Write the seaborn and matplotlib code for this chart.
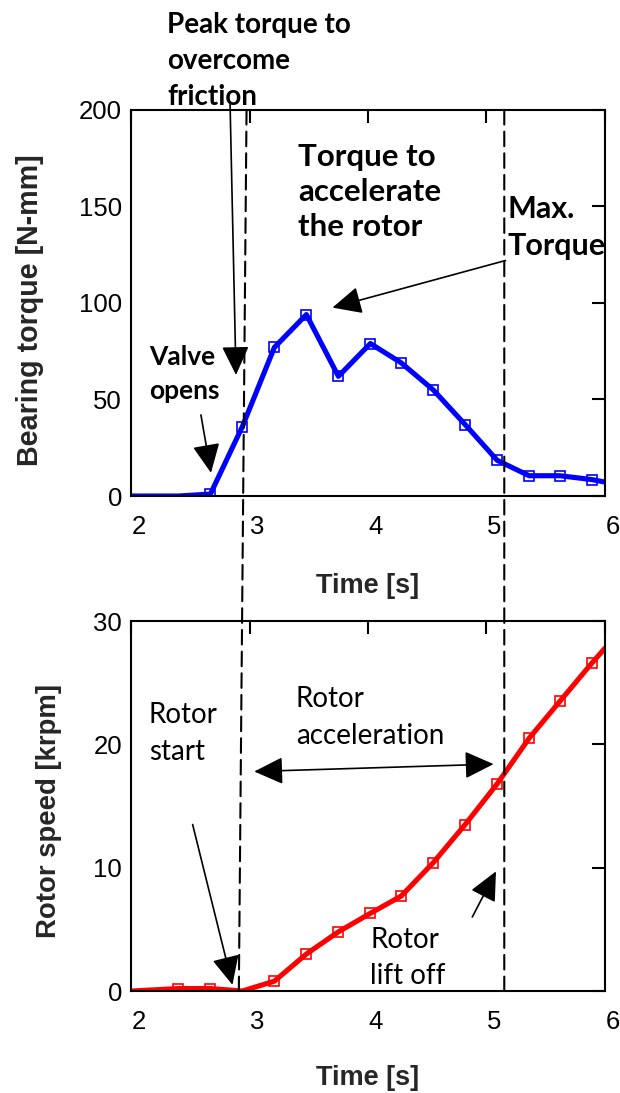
import matplotlib
matplotlib.use("Agg")
import matplotlib.pyplot as plt
from matplotlib.patches import ConnectionPatch
from matplotlib.transforms import ScaledTranslation
import pandas as pd
import seaborn as sns

# Sampled start-up record of the air-bearing rotor
time_s = [2.0, 2.40, 2.67, 2.94, 3.21, 3.48, 3.75, 4.02, 4.28, 4.55, 4.82,
          5.09, 5.36, 5.62, 5.89, 6.0]
bearing_torque = [0, 0, 1, 36, 77, 94, 62, 79, 69, 55, 37,
                  18.5, 10.5, 10.5, 8.5, 7.2]
rotor_speed = [0, 0.2, 0.2, 0, 0.8, 3.0, 4.8, 6.3, 7.7, 10.4, 13.5,
               16.8, 20.5, 23.5, 26.6, 27.8]

# samples that carry a square marker
torque_marked = [2, 3, 4, 5, 6, 7, 8, 9, 10, 11, 12, 13, 14]
speed_marked = [1, 2, 4, 5, 6, 7, 8, 9, 10, 11, 12, 13, 14]

time_ticks = [2, 3, 4, 5, 6]
torque_ticks = [0, 50, 100, 150, 200]
speed_ticks = [0, 10, 20, 30]

# event times (peak friction torque drifts slightly between the two traces)
friction_peak_top = 2.975
friction_peak_bottom = 2.91
lift_off_time = 5.15

df = pd.DataFrame({"time": time_s, "torque": bearing_torque, "speed": rotor_speed})

sns.set_theme(style="white")
plt.rcParams["font.family"] = ["Liberation Sans", "DejaVu Sans"]

DPI = 100
fig = plt.figure(figsize=(6.2, 10.93), dpi=DPI)
ax1 = fig.add_axes([0.2113, 0.5462, 0.7645, 0.3532])
ax2 = fig.add_axes([0.2113, 0.0933, 0.7645, 0.3385])

line_kw = dict(marker="s", markersize=7.4, markerfacecolor="none",
               markeredgewidth=1.2, linewidth=3.7, errorbar=None, legend=False)
sns.lineplot(data=df, x="time", y="torque", ax=ax1, color="#0000ff",
             markeredgecolor="#0000ff", markevery=torque_marked, **line_kw)
sns.lineplot(data=df, x="time", y="speed", ax=ax2, color="#ff0000",
             markeredgecolor="#ff0000", markevery=speed_marked, **line_kw)

shift_right = ScaledTranslation(8 / DPI, 0, fig.dpi_scale_trans)

for ax, yticks, ylab, ysize in ((ax1, torque_ticks, "Bearing torque [N-mm]", 20.6),
                                (ax2, speed_ticks, "Rotor speed [krpm]", 19.8)):
    ax.set_xlim(time_ticks[0], time_ticks[-1])
    ax.set_ylim(yticks[0], yticks[-1])
    ax.set_xticks(time_ticks)
    ax.set_yticks(yticks)
    ax.set_xticklabels([str(t) for t in time_ticks])
    ax.set_yticklabels([str(v) for v in yticks])
    ax.tick_params(direction="in", length=9.5, width=1.5, top=True, right=True,
                   labelsize=18.5, colors="black")
    ax.tick_params(axis="x", pad=13.5)
    ax.tick_params(axis="y", pad=6.5)
    for lbl in ax.get_xticklabels():
        lbl.set_transform(lbl.get_transform() + shift_right)
    for sp in ax.spines.values():
        sp.set_visible(True)
        sp.set_color("black")
        sp.set_linewidth(1.5)
    ax.set_xlabel("Time [s]", family=["Liberation Sans", "DejaVu Sans"],
                  size=19.5, weight="bold")
    ax.set_ylabel(ylab, family=["Liberation Sans", "DejaVu Sans"],
                  size=ysize, weight="bold")

ax1.xaxis.set_label_coords(0.499, -0.199)
ax2.xaxis.set_label_coords(0.499, -0.200)
ax1.yaxis.set_label_coords(-0.184, 0.482)
ax2.yaxis.set_label_coords(-0.145, 0.486)

# dashed event markers spanning both panels
for t_top, t_bot in ((friction_peak_top, friction_peak_bottom),
                     (lift_off_time, lift_off_time)):
    con = ConnectionPatch(xyA=(t_top, torque_ticks[-1]), coordsA=ax1.transData,
                          xyB=(t_bot, speed_ticks[0]), coordsB=ax2.transData,
                          color="black", linewidth=1.5, linestyle=(0, (7, 3.4)))
    fig.add_artist(con)


def note(ax, x, y, text, size, spacing, bold):
    ax.text(x, y, text, size=size, linespacing=spacing,
            family=["Lato", "DejaVu Sans"], weight="bold" if bold else "normal",
            color="black", ha="left", va="top")


note(ax1, 2.305, 251, "Peak torque to\novercome\nfriction", 20, 1.49, True)
note(ax1, 3.41, 183, "Torque to\naccelerate\nthe rotor", 22.5, 1.30, True)
note(ax1, 5.18, 156, "Max.\nTorque", 22, 1.39, True)
note(ax1, 2.15, 78.2, "Valve\nopens", 19, 1.48, True)

note(ax2, 2.15, 23.4, "Rotor\nstart", 20, 1.49, False)
note(ax2, 3.39, 24.7, "Rotor\nacceleration", 20, 1.49, False)
note(ax2, 4.02, 5.2, "Rotor\nlift off", 20, 1.49, False)


def arrow(ax, tail, tip, style="-|>"):
    ax.annotate("", xy=tip, xytext=tail, xycoords="data", textcoords="data",
                annotation_clip=False,
                arrowprops=dict(arrowstyle=f"{style},head_length=1.8,head_width=0.85",
                                mutation_scale=10, lw=1.2, color="black",
                                shrinkA=0, shrinkB=0))


arrow(ax1, (2.836, 203), (2.886, 62.7))
arrow(ax1, (2.59, 42), (2.675, 12))
arrow(ax1, (5.16, 122), (3.70, 97.6))
arrow(ax2, (3.04, 17.8), (5.06, 18.4), style="<|-|>")
arrow(ax2, (2.52, 13.5), (2.856, 0.5))
arrow(ax2, (4.88, 6.0), (5.08, 9.7))

fig.savefig("out.png", dpi=DPI, facecolor="white")
